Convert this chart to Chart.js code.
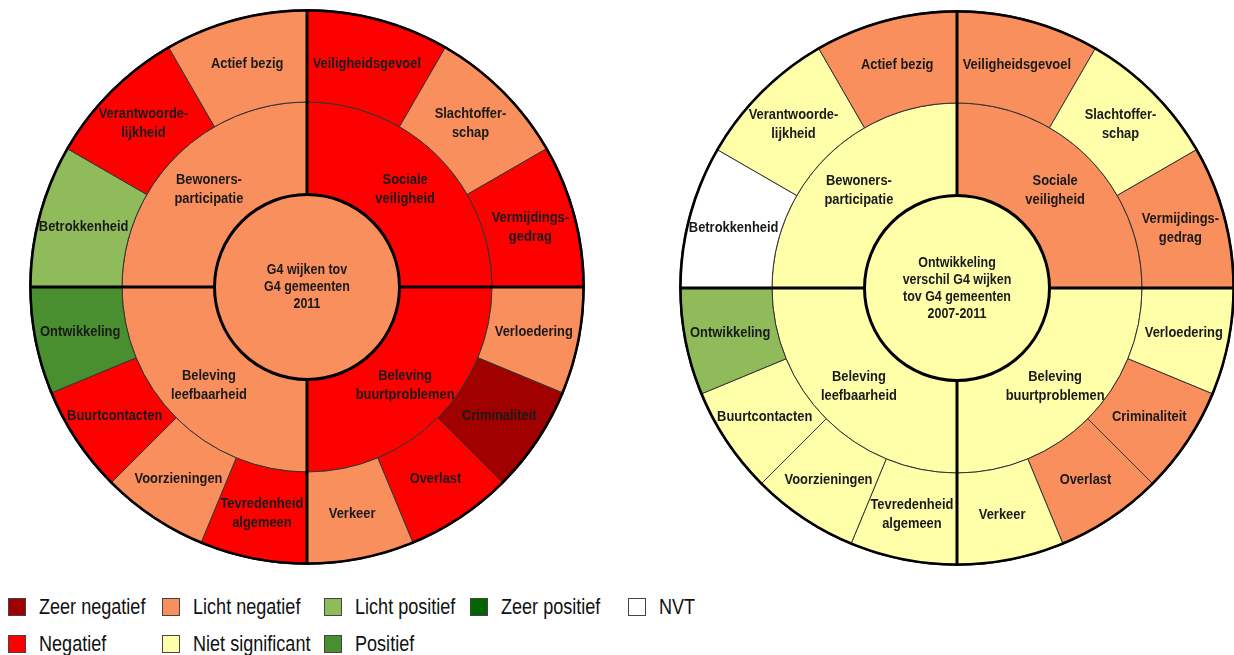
<!DOCTYPE html>
<html>
<head>
<meta charset="utf-8">
<script src="https://cdn.jsdelivr.net/npm/chart.js@4"></script>
<style>
  body {
    margin: 0;
    width: 1234px;
    height: 655px;
    overflow: hidden;
    background: #fff;
    font-family: "Liberation Sans", Arial, sans-serif;
  }
  .wheel { position: absolute; }
  #wheel1 { left: 29px; top: 9px; }
  #wheel2 { left: 679px; top: 10px; }
  .legend {
    position: absolute;
    left: 8px;
    top: 598px;
    display: grid;
    grid-template-columns: 154px 162px 146px 158px 100px;
    grid-auto-rows: 18px;
    row-gap: 19px;
  }
  .legend-item {
    display: flex;
    align-items: center;
    font-size: 21.5px;
    color: #111;
    white-space: nowrap;
  }
  .legend-item span.txt {
    display: inline-block;
    transform: scaleX(0.84);
    transform-origin: left center;
  }
  .legend-box {
    width: 16px;
    height: 16px;
    border: 1px solid #444;
    margin-right: 13px;
    flex: none;
  }
</style>
</head>
<body>
<canvas id="wheel1" class="wheel" width="556" height="556"></canvas>
<canvas id="wheel2" class="wheel" width="556" height="556"></canvas>
<div class="legend" id="legend"></div>

<script>
// legenda (rij voor rij)
const legendLabels = ["Zeer negatief", "Licht negatief", "Licht positief", "Zeer positief", "NVT",
                      "Negatief", "Niet significant", "Positief"];
const legendColors = ["#A00000", "#FA8F5E", "#8FBB5B", "#006600", "#FFFFFF",
                      "#FF0000", "#FFFFAA", "#4A8F2F"];

// buitenste ring, met de klok mee vanaf boven
const outerLabels = ["Veiligheidsgevoel", "Slachtoffer-\nschap", "Vermijdings-\ngedrag",
                     "Verloedering", "Criminaliteit", "Overlast", "Verkeer",
                     "Tevredenheid\nalgemeen", "Voorzieningen", "Buurtcontacten", "Ontwikkeling",
                     "Betrokkenheid", "Verantwoorde-\nlijkheid", "Actief bezig"];
const outerWeights = [30, 30, 30, 22.5, 22.5, 22.5, 22.5, 22.5, 22.5, 22.5, 22.5, 30, 30, 30];

// middelste ring
const middleLabels = ["Sociale\nveiligheid", "Beleving\nbuurtproblemen",
                      "Beleving\nleefbaarheid", "Bewoners-\nparticipatie"];
const middleWeights = [90, 90, 90, 90];

// linker wiel: G4 wijken tov G4 gemeenten 2011
const centerText2011 = "G4 wijken tov\nG4 gemeenten\n2011";
const centerScore2011 = "Licht negatief";
const middleScores2011 = ["Negatief", "Negatief", "Licht negatief", "Licht negatief"];
const outerScores2011 = ["Negatief", "Licht negatief", "Negatief",
                         "Licht negatief", "Zeer negatief", "Negatief", "Licht negatief",
                         "Negatief", "Licht negatief", "Negatief", "Positief",
                         "Licht positief", "Negatief", "Licht negatief"];

// rechter wiel: ontwikkeling 2007-2011
const centerTextTrend = "Ontwikkeling\nverschil G4 wijken\ntov G4 gemeenten\n2007-2011";
const centerScoreTrend = "Niet significant";
const middleScoresTrend = ["Licht negatief", "Niet significant", "Niet significant", "Niet significant"];
const outerScoresTrend = ["Licht negatief", "Niet significant", "Licht negatief",
                          "Niet significant", "Licht negatief", "Licht negatief", "Niet significant",
                          "Niet significant", "Niet significant", "Niet significant", "Licht positief",
                          "NVT", "Niet significant", "Licht negatief"];

const colorOf = (score) => legendColors[legendLabels.indexOf(score)];

// dikke lijnen: kwadranten, binnencirkel en buitenrand
const wheelLines = {
  id: "wheelLines",
  afterDatasetsDraw(chart) {
    const ctx = chart.ctx;
    const outerArc = chart.getDatasetMeta(0).data[0];
    const centerArc = chart.getDatasetMeta(2).data[0];
    const cx = outerArc.x;
    const cy = outerArc.y;
    const rIn = centerArc.outerRadius;
    const rOut = outerArc.outerRadius;

    ctx.save();
    ctx.strokeStyle = "#000";
    ctx.lineWidth = 3;
    chart.getDatasetMeta(1).data.forEach((arc) => {
      const a = arc.startAngle;
      ctx.beginPath();
      ctx.moveTo(cx + Math.cos(a) * rIn, cy + Math.sin(a) * rIn);
      ctx.lineTo(cx + Math.cos(a) * rOut, cy + Math.sin(a) * rOut);
      ctx.stroke();
    });
    ctx.beginPath();
    ctx.arc(cx, cy, rIn, 0, Math.PI * 2);
    ctx.stroke();
    ctx.lineWidth = 2.5;
    ctx.beginPath();
    ctx.arc(cx, cy, rOut - 1, 0, Math.PI * 2);
    ctx.stroke();
    ctx.restore();
  },
};

// teksten in de segmenten (smal lettertype nagebootst met scaleX)
const wheelLabels = {
  id: "wheelLabels",
  afterDraw(chart) {
    const ctx = chart.ctx;
    ctx.save();
    ctx.fillStyle = "#1a1a1a";
    ctx.textAlign = "center";
    ctx.textBaseline = "middle";
    ctx.font = "bold 15px 'Liberation Sans', Arial";
    chart.data.datasets.forEach((ds, i) => {
      const isCenter = i === 2;
      const squeeze = isCenter ? 0.83 : 0.86;
      const lineHeight = isCenter ? 17 : 19;
      chart.getDatasetMeta(i).data.forEach((arc, j) => {
        const pos = isCenter ? { x: arc.x, y: arc.y } : arc.tooltipPosition();
        const lines = ds.labels[j].split("\n");
        const top = pos.y - ((lines.length - 1) * lineHeight) / 2;
        lines.forEach((line, k) => {
          ctx.save();
          ctx.translate(pos.x, top + k * lineHeight);
          ctx.scale(squeeze, 1);
          ctx.fillText(line, 0, 0);
          ctx.restore();
        });
      });
    });
    ctx.restore();
  },
};

function buildWheel(canvasId, centerText, centerScore, middleScores, outerScores) {
  const ctx = document.getElementById(canvasId).getContext("2d");
  return new Chart(ctx, {
    type: "doughnut",
    data: {
      datasets: [
        {
          data: outerWeights,
          labels: outerLabels,
          backgroundColor: outerScores.map(colorOf),
          borderColor: "#333",
          borderWidth: 1,
        },
        {
          data: middleWeights,
          labels: middleLabels,
          backgroundColor: middleScores.map(colorOf),
          borderColor: "#333",
          borderWidth: 1,
        },
        {
          data: [1],
          labels: [centerText],
          backgroundColor: [colorOf(centerScore)],
          borderWidth: 0,
        },
      ],
    },
    options: {
      responsive: false,
      animation: false,
      events: [],
      cutout: 0,
      hoverOffset: 0,
      layout: { padding: 0 },
      plugins: {
        legend: { display: false },
        tooltip: { enabled: false },
      },
    },
    plugins: [wheelLines, wheelLabels],
  });
}

function buildLegend() {
  const legend = document.getElementById("legend");
  legendLabels.forEach((label, i) => {
    const item = document.createElement("div");
    item.classList.add("legend-item");
    const box = document.createElement("span");
    box.classList.add("legend-box");
    box.style.background = legendColors[i];
    const txt = document.createElement("span");
    txt.classList.add("txt");
    txt.innerText = label;
    item.appendChild(box);
    item.appendChild(txt);
    legend.appendChild(item);
  });
}

buildWheel("wheel1", centerText2011, centerScore2011, middleScores2011, outerScores2011);
buildWheel("wheel2", centerTextTrend, centerScoreTrend, middleScoresTrend, outerScoresTrend);
buildLegend();
</script>
</body>
</html>
